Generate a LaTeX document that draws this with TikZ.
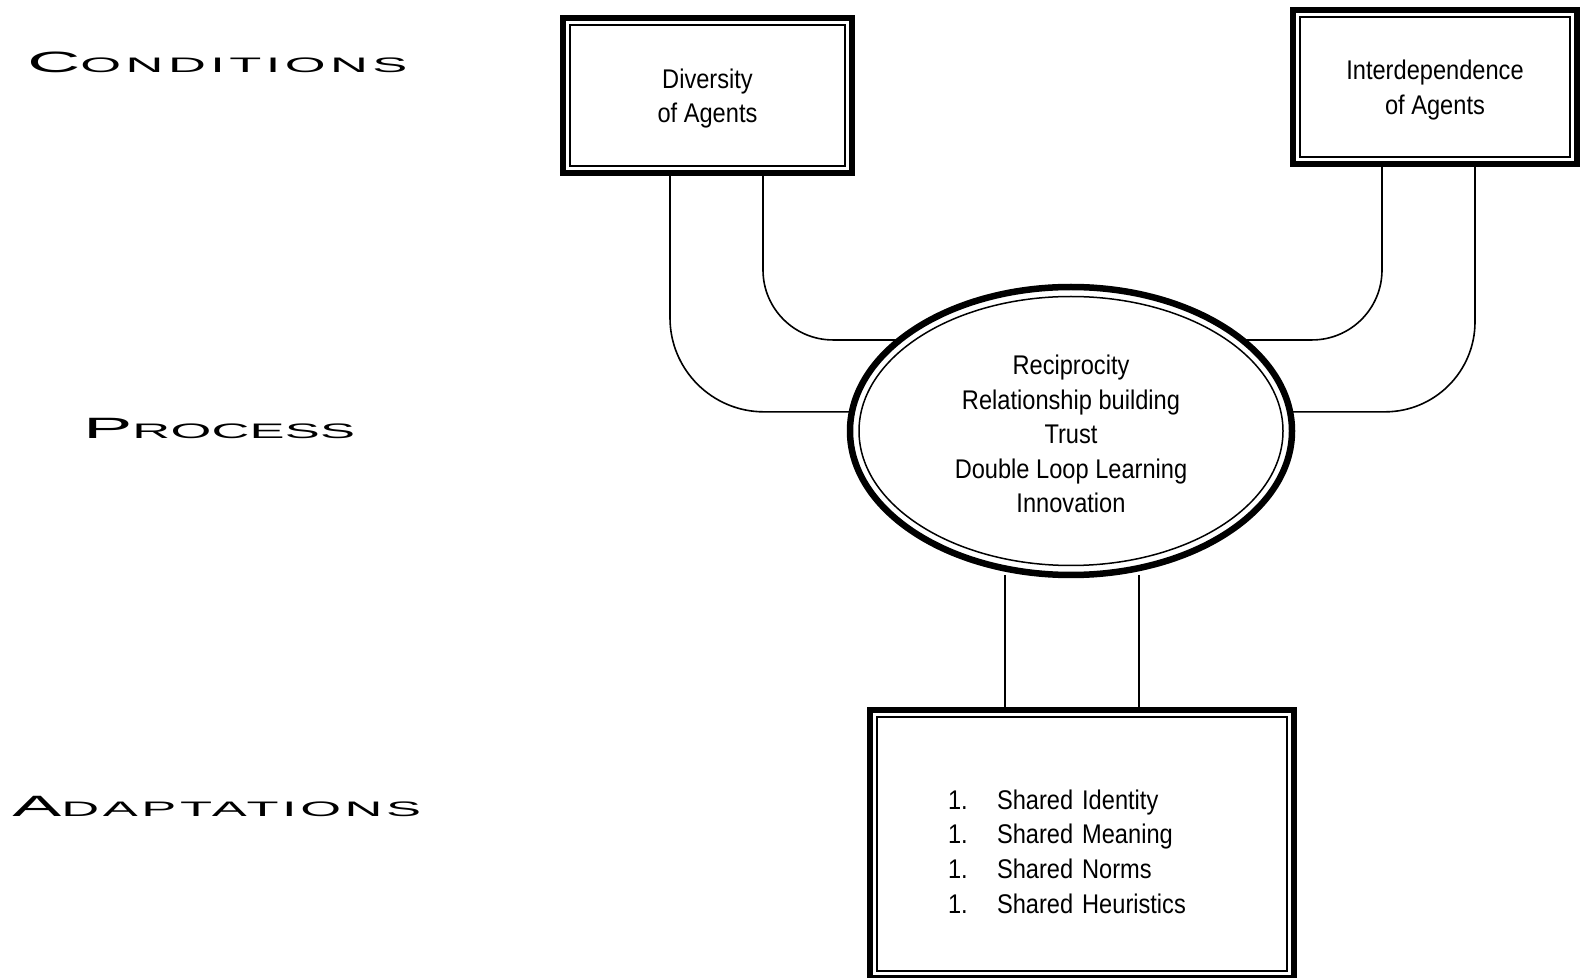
\documentclass[tikz,border=0pt]{standalone}
\usepackage{fontspec}
\newfontfamily\narrowsans[FakeStretch=0.875]{Liberation Sans}
\newfontfamily\widesans[FakeStretch=2.5]{Liberation Sans}
\usetikzlibrary{shapes.geometric}
\newcommand{\stagename}[3][0]{\addfontfeature{LetterSpace=#1}{\fontsize{14.7pt}{16pt}\selectfont #2}{\fontsize{10.5pt}{12pt}\selectfont #3}}
\newcommand{\topstrut}[1][12.8pt]{\rule{0pt}{#1}}
\newcommand{\listitem}{\makebox[24.5pt][l]{1.}}
\tikzset{
    framebox/.style={draw, line width=3pt, fill=white, inner sep=0pt, outer sep=0pt,
        align=center, font=\narrowsans\fontsize{13.5pt}{17.3pt}\selectfont},
    frameoval/.style={framebox, ellipse, line width=3.25pt},
    innerrule/.style={line width=0.75pt},
    link/.style={line width=0.8pt},
    stagelabel/.style={anchor=base west, inner sep=0pt, font=\widesans}}

\begin{document}
\begin{tikzpicture}[x=0.5pt, y=-0.5pt]
        \useasboundingbox (0,0) rectangle (1581,978);
        \fill[white] (0,0) rectangle (1581,978);

        \node[stagelabel] (lblcond) at (27,73) {\stagename[21]{C}{ONDITIONS}};
        \node[stagelabel] (lblproc) at (83,439) {\stagename[1]{P}{ROCESS}};
        \node[stagelabel] (lbladapt) at (12,816) {\stagename[17]{A}{DAPTATIONS}};

        \node[framebox, minimum width=144.5pt, minimum height=77.5pt] (div) at (707.5,95.5) {\topstrut Diversity\\of Agents};
        \node[framebox, minimum width=142pt, minimum height=77pt] (inter) at (1435,87) {\topstrut Interdependence\\of Agents};
        \node[frameoval, minimum width=221pt, minimum height=144pt] (proc) at (1071,431) {\topstrut Reciprocity\\Relationship building\\Trust\\Double Loop Learning\\Innovation};
        \node[framebox, minimum width=212pt, minimum height=134pt, text width=134pt, align=left] (adapt) at (1082,844) {\topstrut[17.3pt]\listitem Shared Identity\\\listitem Shared Meaning\\\listitem Shared Norms\\\listitem Shared Heuristics};

        \foreach \n in {div,inter,adapt}
            \draw[innerrule] ([shift={(3.5pt,3.5pt)}]\n.south west) rectangle ([shift={(-3.5pt,-3.5pt)}]\n.north east);
        \draw[innerrule] (proc.center) ellipse [x radius=106pt, y radius=67.25pt];

        \draw[link, rounded corners=47pt] ([xshift=-18.75pt]div.south) |- (proc.175);
        \draw[link, rounded corners=35pt] ([xshift=27.75pt]div.south) |- (proc.152);
        \draw[link, rounded corners=35pt] ([xshift=-26.5pt]inter.south) |- (proc.28);
        \draw[link, rounded corners=45pt] ([xshift=20pt]inter.south) |- (proc.5);
        \draw[link] ([xshift=-33pt]proc.south) -- ([xshift=-33pt]proc.south |- adapt.north);
        \draw[link] ([xshift=34pt]proc.south) -- ([xshift=34pt]proc.south |- adapt.north);

\end{tikzpicture}
\end{document}
